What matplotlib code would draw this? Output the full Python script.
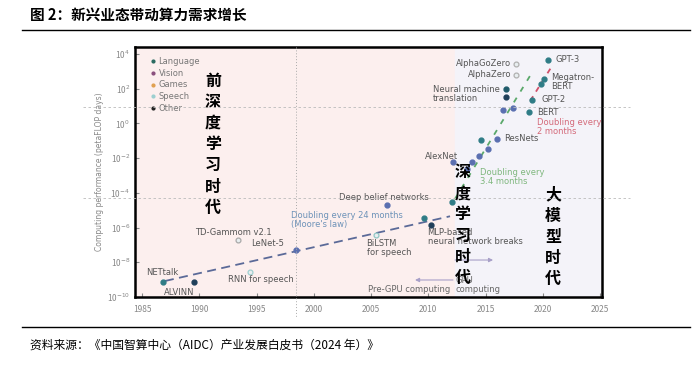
import numpy as np
import matplotlib
matplotlib.use("Agg")
import matplotlib.pyplot as plt
from matplotlib.lines import Line2D

plt.rcParams['font.family'] = ['Noto Sans CJK SC', 'DejaVu Sans']

# systems: year, log10(petaFLOP days), colour, label
sys_years = [1986.8, 1989.5, 1994.4, 1993.4, 1998.45, 2005.4, 2006.4, 2009.6, 2010.2,
             2012.1, 2012.2, 2013.8, 2013.4, 2014.4, 2015.2, 2014.6, 2016.0,
             2016.5, 2017.4, 2016.8, 2016.8, 2018.8, 2019.1, 2019.8, 2020.1,
             2017.7, 2017.7, 2020.45]
sys_logs = [-9.14, -9.14, -8.56, -6.73, -7.30, -6.44, -4.72, -5.47, -5.87,
            -4.55, -2.25, -2.20, -2.65, -1.85, -1.50, -0.93, -0.88,
            0.79, 0.90, 1.99, 1.53, 0.67, 1.36, 2.28, 2.57,
            3.43, 2.80, 3.66]
sys_colors = ['#2f7c86', '#1f3f5a', '#9fd0d0', '#a9a9a9', '#5a6fb0', '#8fc6c4', '#5a6fb0',
              '#2f7c86', '#1f3f5a', '#2f7c86', '#5a6fb0', '#5a6fb0', '#5a6fb0', '#5a6fb0',
              '#5a6fb0', '#2f7c86', '#5a6fb0', '#5a6fb0', '#5a6fb0', '#1f5a6a', '#1f3f5a',
              '#2f7c86', '#2f7c86', '#2f7c86', '#2f7c86', '#b0b0b0', '#b0b0b0', '#2f7c86']
sys_hollow = [False, False, True, True, False, True, False, False, False,
              False, False, False, False, False, False, False, False,
              False, False, False, False, False, False, False, False,
              True, True, False]

# label: (index of system, text, offset px, ha, va)
labels = [(0, 'NETtalk', (0, 10), 'center', 'center'),
          (1, 'ALVINN', (-14, -10), 'center', 'center'),
          (2, 'RNN for speech', (11, -7), 'center', 'center'),
          (3, 'TD-Gammom v2.1', (-5, 8), 'center', 'center'),
          (4, 'LeNet-5', (-28, 7), 'center', 'center'),
          (5, 'BiLSTM\nfor speech', (-9, -4), 'left', 'top'),
          (6, 'Deep belief networks', (-3, 8), 'center', 'center'),
          (8, 'MLP-based\nneural network breaks', (-3, -3), 'left', 'top'),
          (10, 'AlexNet', (5, 6), 'right', 'center'),
          (16, 'ResNets', (7, 0), 'left', 'center'),
          (19, 'Neural machine\ntranslation', (-6, -5), 'right', 'center'),
          (21, 'BERT', (8, -1), 'left', 'center'),
          (22, 'GPT-2', (9, 0), 'left', 'center'),
          (24, 'Megatron-\nBERT', (7, -3), 'left', 'center'),
          (25, 'AlphaGoZero', (-5, 0), 'right', 'center'),
          (26, 'AlphaZero', (-5, 0), 'right', 'center'),
          (27, 'GPT-3', (8, 0), 'left', 'center')]

# trend lines (year, log10)
moore_x, moore_y = [1987.0, 2011.9], [-9.08, -5.35]
fast_x, fast_y = [2012.3, 2019.1], [-4.38, 2.97]
fastest_x, fastest_y = [2018.9, 2020.8], [1.3, 3.3]

legend_names = ['Language', 'Vision', 'Games', 'Speech', 'Other']
legend_colors = ['#2a6a60', '#8a4f7d', '#e0a050', '#9ccfd0', '#222222']

ytick_exp = [4, 2, 0, -2, -4, -6, -8, -10]
xticks = [1985, 1990, 1995, 2000, 2005, 2010, 2015, 2020, 2025]

fig = plt.figure(figsize=(6.99, 3.65), dpi=100)
ax = fig.add_axes([135/699, 1-297/365, 467/699, 250/365])
ax.set_yscale('log')
ax.set_xlim(1984.39, 2025.17)
ax.set_ylim(1e-10, 10**4.4)

ax.axvspan(1984.39, 2012.3, color='#fcefee', zorder=0)
ax.axvspan(2012.3, 2025.17, color='#f4f3f9', zorder=0)

ax.plot(moore_x, 10**np.array(moore_y), ls=(0, (5, 3)), color='#5b6a98', lw=1.3, zorder=2)
ax.plot(fast_x, 10**np.array(fast_y), ls=(0, (3, 4)), color='#5aa86a', lw=1.3, zorder=2)
ax.plot(fastest_x, 10**np.array(fastest_y), ls=(0, (3, 3)), color='#d0506a', lw=1.3, zorder=2)

for x, lg, c, h in zip(sys_years, sys_logs, sys_colors, sys_hollow):
    if h:
        ax.plot(x, 10**lg, 'o', ms=3.5, mfc='#e8eef0', mec=c, mew=0.9, zorder=3)
    else:
        ax.plot(x, 10**lg, 'o', ms=3.5, color=c, zorder=3)

for i, t, off, ha, va in labels:
    ax.annotate(t, (sys_years[i], 10**sys_logs[i]), xytext=off, textcoords='offset pixels',
                ha=ha, va=va, fontsize=6, color='#555555', family='DejaVu Sans',
                multialignment='left', linespacing=1.0, zorder=4)

ax.text(1998.0, 10**-5.54, "Doubling every 24 months\n(Moore's law)", fontsize=6,
        color='#6d92b8', family='DejaVu Sans', va='center', linespacing=1.0)
ax.text(2014.5, 10**-3.06, "Doubling every\n3.4 months", fontsize=6,
        color='#7fb77e', family='DejaVu Sans', va='center', linespacing=1.0)
ax.text(2019.5, 10**-0.18, "Doubling every\n2 months", fontsize=6,
        color='#d46a7a', family='DejaVu Sans', va='center', linespacing=1.0)
ax.text(2012.4, 10**-9.31, "GPU\ncomputing", fontsize=6, color='#666666',
        family='DejaVu Sans', va='center', linespacing=1.0)
ax.text(2004.7, 10**-9.54, "Pre-GPU computing", fontsize=6, color='#666666',
        family='DejaVu Sans', va='center')
ax.annotate('', xy=(2015.9, 10**-7.87), xytext=(2012.1, 10**-7.87),
            arrowprops=dict(arrowstyle='-|>', color='#a8a0c8', lw=0.8, mutation_scale=6))
ax.annotate('', xy=(2008.6, 10**-9.02), xytext=(2012.4, 10**-9.02),
            arrowprops=dict(arrowstyle='-|>', color='#a8a0c8', lw=0.8, mutation_scale=6))

# era labels
ax.text(1991.2, 10**-1.2, '\n'.join('前深度学习时代'), fontsize=11.5, fontweight='bold',
        ha='center', va='center', linespacing=1.4, zorder=5)
ax.text(2013.0, 10**-5.85, '\n'.join('深度学习时代'), fontsize=11.5, fontweight='bold',
        ha='center', va='center', linespacing=1.4, zorder=5)
ax.text(2020.9, 10**-6.54, '\n'.join('大模型时代'), fontsize=11.5, fontweight='bold',
        ha='center', va='center', linespacing=1.4, zorder=5)

handles = [Line2D([], [], marker='o', ls='', ms=2, color=c) for c in legend_colors]
leg = ax.legend(handles, legend_names, loc='upper left', bbox_to_anchor=(0.02, 0.985),
                frameon=False, handlelength=0.6, handletextpad=0.4,
                labelspacing=0.35, borderpad=0.2,
                prop={'family': 'DejaVu Sans', 'size': 6})
for t in leg.get_texts():
    t.set_color('#777777')

ax.set_yticks([10.0**e for e in ytick_exp])
ax.set_yticklabels(['10$^{%d}$' % e for e in ytick_exp])
ax.set_xticks(xticks)
ax.set_xticklabels([str(x) for x in xticks])
ax.tick_params(axis='both', labelsize=6, colors='#888888', labelcolor='#888888',
               direction='in', length=3)
ax.tick_params(axis='x', pad=6)
ax.tick_params(axis='y', which='minor', colors='#999999', direction='in', length=2)
ax.set_ylabel('Computing performance (petaFLOP days)', fontsize=5.5, color='#888888',
              family='DejaVu Sans', labelpad=2)
for s in ax.spines.values():
    s.set_linewidth(1.8)
    s.set_color('black')

# dotted guide lines that run past the frame
fig.add_artist(Line2D([83/699, 630/699], [1-107/365]*2, ls=(0, (3, 3)), lw=0.6, color='#bbbbbb'))
fig.add_artist(Line2D([83/699, 630/699], [1-198/365]*2, ls=(0, (3, 3)), lw=0.6, color='#bbbbbb'))
fig.add_artist(Line2D([296/699]*2, [1-47/365, 1-318/365], ls=(0, (1, 2)), lw=0.7, color='#aaaaaa'))

# title, rules, source
fig.text(30/699, 1-15/365, '图 2：新兴业态带动算力需求增长', fontsize=10.5, fontweight='bold',
         va='center', ha='left')
fig.add_artist(Line2D([22/699, 690/699], [1-30/365]*2, lw=1.0, color='black'))
fig.add_artist(Line2D([22/699, 690/699], [1-327/365]*2, lw=1.0, color='black'))
fig.text(30/699, 1-345/365, '资料来源：《中国智算中心（AIDC）产业发展白皮书（2024 年）》',
         fontsize=8.5, style='italic', va='center', ha='left')

fig.savefig('out.png', dpi=100)
